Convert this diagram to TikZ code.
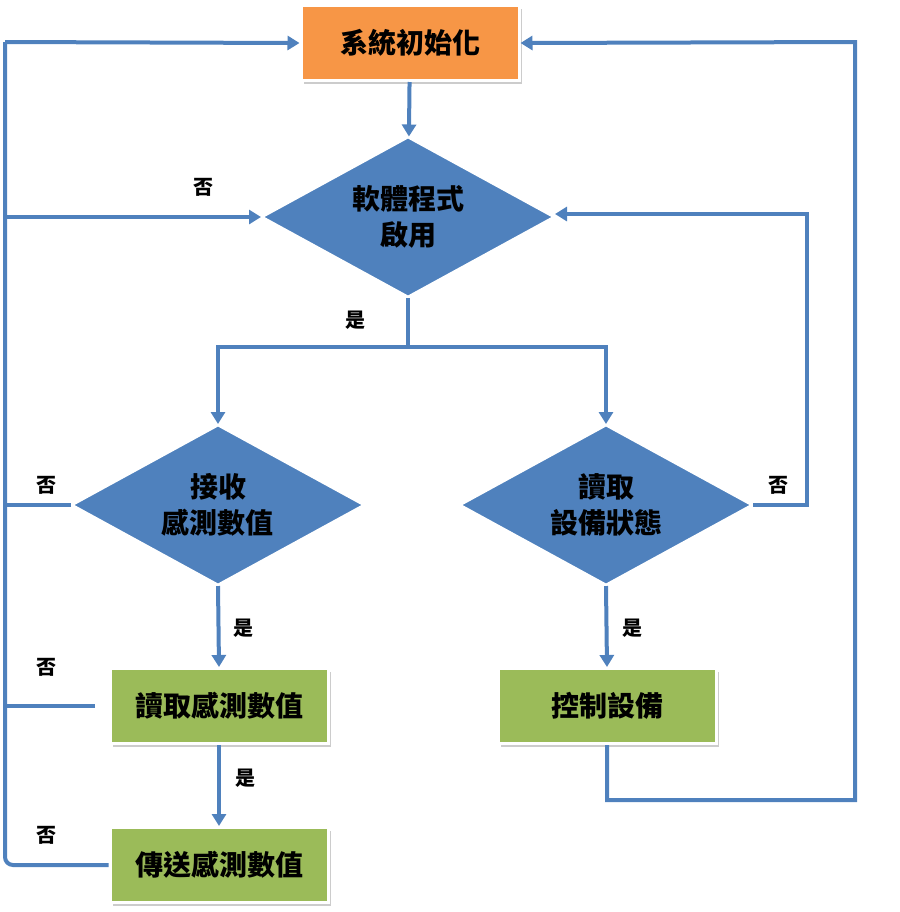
\documentclass[tikz,border=0pt]{standalone}
\usepackage{fontspec}
\setmainfont{Noto Sans CJK TC}
\usetikzlibrary{shapes.geometric,arrows.meta,shadows}
\definecolor{lblue}{HTML}{4F81BD}
\definecolor{orng}{HTML}{F79646}
\definecolor{grn}{HTML}{9BBB59}
\begin{document}
\begin{tikzpicture}[x=0.5pt,y=-0.5pt,
  box/.style={draw=white,line width=1.5pt,minimum width=109pt,minimum height=37.5pt,font=\fontsize{14}{17}\selectfont\bfseries,drop shadow={shadow xshift=1.5pt,shadow yshift=-1.5pt,opacity=0.4}},
  dia/.style={diamond,aspect=1.8,draw=white,line width=1pt,fill=lblue,inner sep=0pt,minimum width=146pt,minimum height=80pt,align=center,font=\fontsize{14}{18}\selectfont\bfseries},
  ln/.style={draw=lblue,line width=2pt},
  ar/.style={ln,-{Triangle[length=6pt,width=7pt]}},
  lab/.style={font=\fontsize{10}{12}\selectfont\bfseries}]
\useasboundingbox (0,0) rectangle (900,912);
\node[box,fill=orng] (init) at (410,43) {系統初始化};
\node[dia] (d1) at (408,217) {軟體程式\\啟用};
\node[dia] (d2) at (218,505) {接收\\感測數值};
\node[dia] (d3) at (606,505) {讀取\\設備狀態};
\node[box,fill=grn] (r) at (219,706) {讀取感測數值};
\node[box,fill=grn] (c) at (607,706) {控制設備};
\node[box,fill=grn] (s) at (219,865) {傳送感測數值};
\coordinate (L) at (5,42);
\coordinate (Lb) at (5,865);
\coordinate (sp) at (408,347);
\draw[ar] (init) -- (d1);
\draw[ln] (d1.south) -- (sp);
\draw[ar] (sp) -| (d2.north);
\draw[ar] (sp) -| (d3.north);
\draw[ar] (L) -- (init.west);
\draw[ln,rounded corners=4pt] (L) -- (Lb) -- (s.west);
\draw[ar] (5,217) -- (d1.west);
\draw[ln] (d2.west) -- (5,505);
\draw[ln] (95,706) -- (5,706);
\draw[ar] (d2.south) -- (r.north);
\draw[ar] (r.south) -- (s.north);
\draw[ar] (d3.south) -- (c.north);
\draw[ar] (d3.east) -- (807,505) -- (807,214) -- (d1.east |- 0,214);
\draw[ar] (c.south) -- (607,800) -- (855,800) -- (855,42) -- (init.east);
\node[lab] at (203,187) {否};
\node[lab] at (355,320) {是};
\node[lab] at (47,485) {否};
\node[lab] at (47,667) {否};
\node[lab] at (47,835) {否};
\node[lab] at (243,628) {是};
\node[lab] at (245,778) {是};
\node[lab] at (632,628) {是};
\node[lab] at (778,485) {否};
\end{tikzpicture}
\end{document}
